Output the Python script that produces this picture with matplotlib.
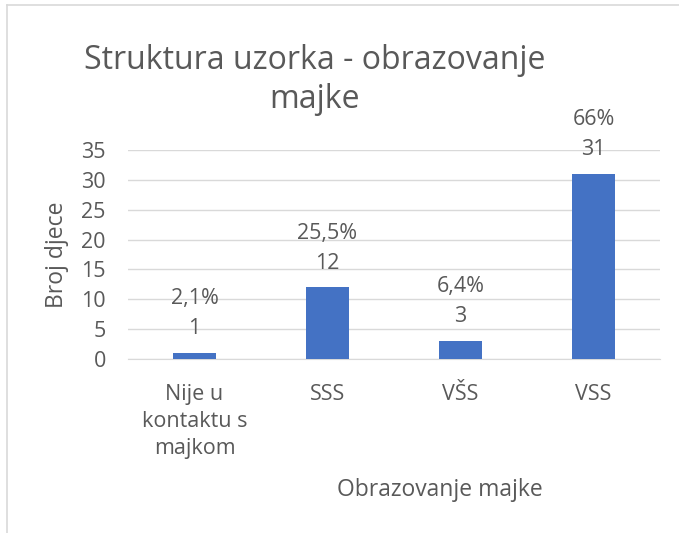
#Struktura uzorka - obrazovanje majke
import matplotlib.pyplot as plt
import numpy as np

#Podaci procitani sa slike
kategorije = ["Nije u\nkontaktu s\nmajkom", "SSS", "VŠS", "VSS"]
broj_djece = [1, 12, 3, 31]
postotci = ["2,1%", "25,5%", "6,4%", "66%"]
y_ticks = [0, 5, 10, 15, 20, 25, 30, 35]

plt.rcParams['font.family'] = ['Open Sans', 'DejaVu Sans']
siva = '#595959'

fig = plt.figure(figsize=(6.79, 5.33), dpi=100)
ax = fig.add_axes([0.1885, 0.3265, 0.7835, 0.392])

x = np.arange(len(kategorije))
ax.bar(x, broj_djece, width=0.32, color='#4472C4', zorder=3)

#oznake iznad stupaca (postotak i broj)
for xi, v, p in zip(x, broj_djece, postotci):
    ax.annotate(str(v), (xi, v), xytext=(0, 17.5), textcoords='offset points',
                ha='center', va='center', fontsize=15.5, color=siva, annotation_clip=False)
    ax.annotate(p, (xi, v), xytext=(0, 39), textcoords='offset points',
                ha='center', va='center', fontsize=15.5, color=siva, annotation_clip=False)

ax.set_xlim(-0.5, len(kategorije) - 0.5)
ax.set_ylim(0, 35)
ax.set_yticks(y_ticks)
ax.set_xticks(x)
ax.set_xticklabels(kategorije, linespacing=1.38)
ax.tick_params(axis='both', length=0, labelsize=15.5, colors=siva)
ax.tick_params(axis='x', pad=18)
ax.tick_params(axis='y', pad=16)
ax.grid(axis='y', color='#D9D9D9', linewidth=1, zorder=0)
for s in ['top', 'right', 'left']:
    ax.spines[s].set_visible(False)
ax.spines['bottom'].set_color('#D9D9D9')

fig.text(57/679, 1 - 255/533, "Broj djece", ha='center', va='center', rotation=90,
         fontsize=16.5, color=siva)
fig.text(440/679, 1 - 490/533, "Obrazovanje majke", ha='center', va='center',
         fontsize=16.5, color=siva)
fig.text(315/679, 1 - 80/533, "Struktura uzorka - obrazovanje\nmajke", ha='center',
         va='center', fontsize=23, color=siva, linespacing=1.25)

#okvir grafikona
fig.add_artist(plt.Line2D([7/679, 7/679], [0, 1 - 5/533], color='#D9D9D9', lw=1.2))
fig.add_artist(plt.Line2D([7/679, 1], [1 - 5/533, 1 - 5/533], color='#D9D9D9', lw=1.2))

fig.savefig("out.png", dpi=100)
